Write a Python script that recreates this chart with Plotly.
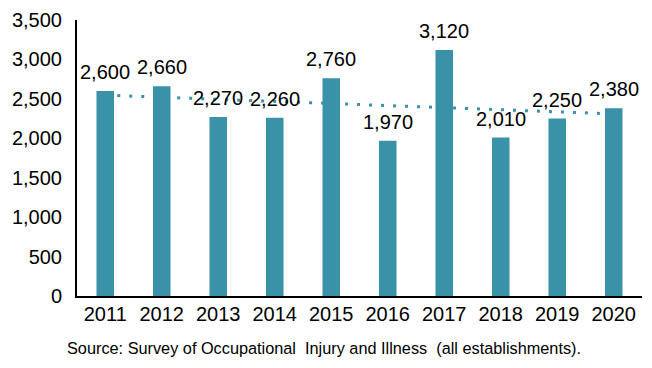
import numpy as np
import plotly.graph_objects as go

years = ["2011", "2012", "2013", "2014", "2015", "2016", "2017", "2018", "2019", "2020"]
cases = [2600, 2660, 2270, 2260, 2760, 1970, 3120, 2010, 2250, 2380]
y_ticks = [0, 500, 1000, 1500, 2000, 2500, 3000, 3500]
source_text = "Source: Survey of Occupational\u00a0 Injury and Illness\u00a0 (all establishments)."

bar_color = "#3A92A8"
font_family = "Liberation Sans, Arial, sans-serif"

idx = np.arange(len(cases))
slope, intercept = np.polyfit(idx, cases, 1)
trend = slope * idx + intercept

fig = go.Figure()
fig.add_trace(go.Bar(x=years, y=cases, marker=dict(color=bar_color, line=dict(width=0)),
                     hoverinfo="skip"))
fig.add_trace(go.Scatter(x=years, y=trend, mode="lines",
                         line=dict(color=bar_color, width=3, dash="3px,9px"),
                         hoverinfo="skip"))

for i, v in enumerate(cases):
    fig.add_annotation(x=i, y=v, text=f"{v:,}", showarrow=False, yanchor="bottom",
                       yshift=6, font=dict(family=font_family, size=20, color="#000"))

fig.add_annotation(xref="paper", yref="paper", x=-0.022, y=-0.188, xanchor="left",
                   yanchor="middle", text=source_text, showarrow=False,
                   font=dict(family=font_family, size=16.3, color="#000"))

# page body has an 8px default margin, so the figure is 8px smaller
fig.update_layout(
    width=644, height=360,
    margin=dict(l=69, r=10, t=12, b=72, autoexpand=False),
    paper_bgcolor="white", plot_bgcolor="white",
    showlegend=False, bargap=0.69,
    font=dict(family=font_family, size=20, color="#000"),
)
fig.update_xaxes(type="category", range=[-0.5, len(years) - 0.5], showline=True,
                 linecolor="#000", linewidth=2, showgrid=False, automargin=False,
                 ticks="", ticklabelstandoff=-1, tickfont=dict(size=20))
fig.update_yaxes(range=[0, 3500], tickvals=y_ticks, ticktext=[f"{t:,}" for t in y_ticks],
                 showline=True, linecolor="#000", linewidth=2, showgrid=False,
                 zeroline=False, ticks="", ticklabelstandoff=9, automargin=False,
                 tickfont=dict(size=20))

fig.write_html("out.html")
